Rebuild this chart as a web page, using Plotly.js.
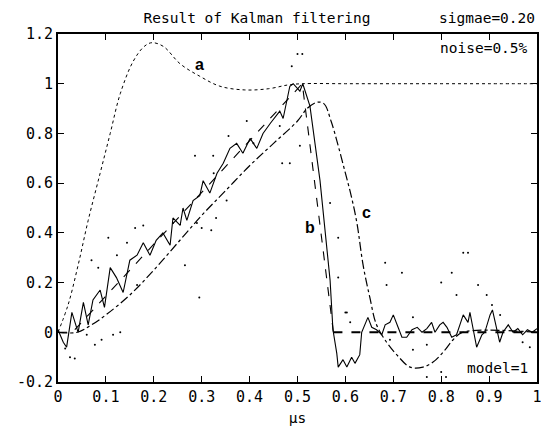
<!DOCTYPE html>
<html>
<head>
<meta charset="utf-8">
<script src="https://cdn.plot.ly/plotly-3.0.1.min.js"></script>
<style>html,body{margin:0;padding:0;background:#fff;}#chart{width:541px;height:427px;}</style>
</head>
<body>
<div id="chart"></div>
<script>
// curve a (dotted)
const aX = [0,0.021,0.042,0.063,0.088,0.109,0.13,0.157,0.18,0.196,0.22,0.255,0.296,0.338,0.39,0.44,0.48,0.51,0.6,0.7,0.8,0.9,1.0];
const aY = [0,0.11,0.27,0.45,0.64,0.80,0.96,1.09,1.15,1.165,1.15,1.08,1.03,0.99,0.975,0.98,0.995,1.0,1.0,1.0,1.0,1.0,1.0];
// curve b (dashed, reference signal): ramp and drop, then zero level
const bX = [0,0.03,0.51,0.575];
const bY = [0,0,1.0,0];
const bZeroX = [0.575,1.0];
const bZeroY = [0,0];
// curve c (dash-dot)
const cX = [0,0.04,0.07,0.1,0.15,0.2,0.25,0.3,0.35,0.4,0.45,0.5,0.52,0.54,0.555,0.57,0.585,0.6,0.612,0.624,0.637,0.651,0.665,0.686,0.707,0.735,0.762,0.783,0.804,0.825,0.845,1.0];
const cY = [0,0,0.03,0.07,0.15,0.25,0.36,0.47,0.57,0.67,0.76,0.85,0.9,0.925,0.92,0.85,0.75,0.64,0.55,0.44,0.27,0.14,0.03,-0.04,-0.09,-0.14,-0.14,-0.12,-0.08,-0.03,0,0];
// Kalman estimate (solid)
const sX = [0,0.011,0.018,0.029,0.042,0.053,0.063,0.073,0.088,0.097,0.109,0.122,0.136,0.150,0.165,0.178,0.192,0.205,0.219,0.234,0.240,0.255,0.261,0.269,0.282,0.296,0.303,0.317,0.332,0.345,0.359,0.373,0.386,0.401,0.415,0.428,0.443,0.463,0.470,0.478,0.484,0.491,0.505,0.511,0.526,0.547,0.557,0.568,0.574,0.582,0.585,0.595,0.603,0.613,0.620,0.630,0.634,0.647,0.655,0.665,0.676,0.683,0.693,0.700,0.710,0.718,0.728,0.739,0.750,0.760,0.770,0.780,0.787,0.797,0.804,0.812,0.822,0.832,0.839,0.846,0.856,0.860,0.869,0.874,0.885,0.891,0.902,0.907,0.914,0.922,0.929,0.940,0.950,0.960,0.970,0.980,0.990,1.0];
const sY = [0.01,-0.04,-0.06,0.08,0.0,0.12,0.03,0.13,0.17,0.10,0.26,0.22,0.16,0.29,0.31,0.36,0.31,0.37,0.40,0.35,0.46,0.43,0.50,0.45,0.53,0.55,0.61,0.56,0.64,0.68,0.74,0.76,0.72,0.78,0.74,0.80,0.84,0.89,0.86,0.94,0.99,1.00,0.97,1.00,0.91,0.61,0.41,0.21,0.01,-0.085,-0.14,-0.11,-0.14,-0.10,-0.125,-0.09,0.0,0.06,0.02,0.01,-0.01,0.03,0.04,0.07,0.02,-0.02,-0.02,0.01,0.02,0.0,0.015,0.04,0.0,0.03,0.04,0.02,-0.02,-0.01,0.03,0.07,0.04,0.08,-0.01,-0.06,-0.01,0.0,0.07,0.09,0.03,-0.04,0.0,0.03,0.0,0.015,-0.01,0.01,0.0,0.015];
// noisy measurements (dots)
const mX = [0.015,0.025,0.035,0.06,0.077,0.091,0.115,0.13,0.07,0.084,0.105,0.123,0.144,0.161,0.178,0.165,0.265,0.295,0.29,0.32,0.33,0.24,0.394,0.356,0.325,0.352,0.408,0.51,0.488,0.484,0.585,0.585,0.61,0.6,0.718,0.686,0.683,0.741,0.741,0.77,0.80,0.822,0.846,0.856,0.832,0.877,0.895,0.906,0.923,0.97,0.985,0.77,0.81,0.80,0.324,0.468,0.286,0.30,0.463,0.505,0.568,0.603,0.693,0.50];
const mY = [-0.065,-0.10,-0.105,-0.01,-0.05,-0.03,-0.01,0.0,0.29,0.26,0.38,0.31,0.36,0.42,0.43,0.19,0.27,0.14,0.44,0.41,0.46,0.44,0.85,0.79,0.64,0.53,0.76,1.12,1.07,0.68,0.38,0.22,0.04,0.08,0.24,0.19,0.28,0.06,-0.07,-0.05,0.20,0.24,0.32,0.32,0.15,0.19,0.15,0.11,0.07,-0.04,-0.06,-0.18,-0.18,-0.16,0.71,0.68,0.71,0.42,0.83,0.75,0.52,0.08,-0.03,1.12];

const xTicks = [0,0.1,0.2,0.3,0.4,0.5,0.6,0.7,0.8,0.9,1];
const yTicks = [-0.2,0,0.2,0.4,0.6,0.8,1,1.2];

const mono = "DejaVu Sans Mono, Liberation Mono, monospace";
const traces = [
  {x:mX, y:mY, mode:'markers', marker:{size:2, color:'#000'}, hoverinfo:'skip'},
  {x:aX, y:aY, mode:'lines', line:{color:'#000', width:1, dash:'dot', shape:'spline'}},
  {x:cX, y:cY, mode:'lines', line:{color:'#000', width:1.2, dash:'dashdot', shape:'spline'}},
  {x:bX, y:bY, mode:'lines', line:{color:'#000', width:1.1, dash:'dash'}},
  {x:bZeroX, y:bZeroY, mode:'lines', line:{color:'#000', width:2, dash:'dash'}},
  {x:sX, y:sY, mode:'lines', line:{color:'#000', width:1.1}}
];

const axisCommon = {
  showgrid:false, zeroline:false, showline:true, linecolor:'#000', linewidth:2,
  mirror:'ticks', ticks:'inside', ticklen:6, tickcolor:'#000', tickwidth:1,
  ticklabeloverflow:'allow',
  tickfont:{family:mono, size:15, color:'#000'}
};

const layout = {
  width:541, height:427,
  margin:{l:58, r:4, t:34, b:45},
  paper_bgcolor:'#fff', plot_bgcolor:'#fff',
  showlegend:false,
  title:{text:'Result of Kalman filtering', font:{family:mono, size:14.5, color:'#000'},
         x:257/541, xanchor:'center', y:1-18/427, yanchor:'middle'},
  xaxis:Object.assign({}, axisCommon, {range:[0,1], tickvals:xTicks, ticktext:xTicks.map(String),
         title:{text:'μs', font:{family:mono, size:14.5, color:'#000'}, standoff:8}}),
  yaxis:Object.assign({}, axisCommon, {range:[-0.2,1.2], tickvals:yTicks, ticktext:yTicks.map(String)}),
  annotations:[
    {xref:'paper', yref:'paper', x:1.0, y:(382-18)/348, xanchor:'right', yanchor:'middle', showarrow:false,
     text:'sigmae=0.20', font:{family:mono, size:14.5, color:'#000'}},
    {xref:'x', yref:'y', x:0.985, y:1.145, xanchor:'right', yanchor:'middle', showarrow:false,
     text:'noise=0.5%', font:{family:mono, size:14.5, color:'#000'}},
    {xref:'x', yref:'y', x:0.985, y:-0.145, xanchor:'right', yanchor:'middle', showarrow:false,
     text:'model=1', font:{family:mono, size:14.5, color:'#000'}},
    {xref:'x', yref:'y', x:0.296, y:1.077, showarrow:false, text:'<b>a</b>', font:{family:'Liberation Sans, Arial', size:16, color:'#000'}},
    {xref:'x', yref:'y', x:0.526, y:0.42, showarrow:false, text:'<b>b</b>', font:{family:'Liberation Sans, Arial', size:16, color:'#000'}},
    {xref:'x', yref:'y', x:0.643, y:0.48, showarrow:false, text:'<b>c</b>', font:{family:'Liberation Sans, Arial', size:16, color:'#000'}}
  ]
};

Plotly.newPlot('chart', traces, layout, {staticPlot:true, displayModeBar:false});
</script>
</body>
</html>
